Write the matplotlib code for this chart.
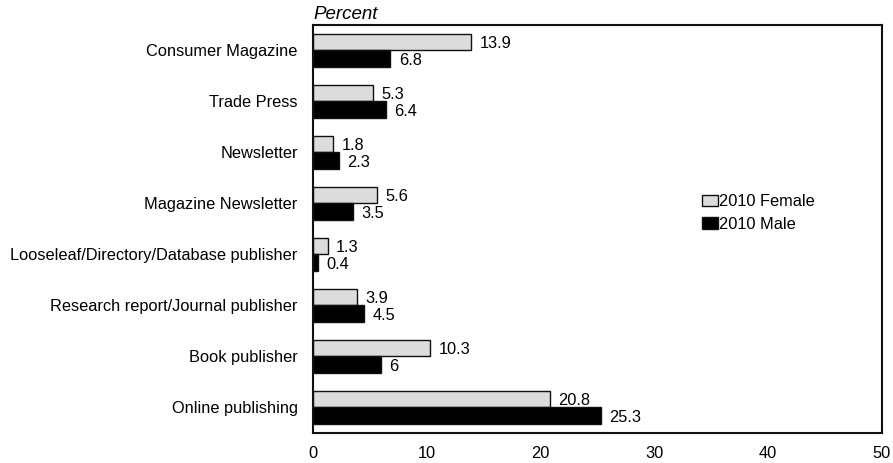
import matplotlib

matplotlib.use("Agg")
import matplotlib.pyplot as plt
import numpy as np

categories = [
    "Consumer Magazine",
    "Trade Press",
    "Newsletter",
    "Magazine Newsletter",
    "Looseleaf/Directory/Database publisher",
    "Research report/Journal publisher",
    "Book publisher",
    "Online publishing",
]
female_2010 = [13.9, 5.3, 1.8, 5.6, 1.3, 3.9, 10.3, 20.8]
male_2010 = [6.8, 6.4, 2.3, 3.5, 0.4, 4.5, 6, 25.3]
x_ticks = [0, 10, 20, 30, 40, 50]

FS = 11.8
plt.rcParams["font.family"] = ["Liberation Sans", "DejaVu Sans"]
plt.rcParams["font.size"] = FS

fig = plt.figure(figsize=(8.93, 4.63), dpi=100)
ax = fig.add_axes([313 / 893, 30 / 463, 569 / 893, 408 / 463])

pos = np.arange(len(categories))
h = 0.323
ax.barh(pos - h / 2, female_2010, height=h, color="#dcdcdc",
        edgecolor="#111111", linewidth=1, label="2010 Female")
ax.barh(pos + h / 2, male_2010, height=h, color="black",
        edgecolor="#111111", linewidth=1, label="2010 Male")

for y, v in zip(pos - h / 2, female_2010):
    ax.annotate(f"{v:g}", (v, y), xytext=(6, -1), textcoords="offset points",
                va="center", ha="left", fontsize=FS)
for y, v in zip(pos + h / 2, male_2010):
    ax.annotate(f"{v:g}", (v, y), xytext=(6, -1.5), textcoords="offset points",
                va="center", ha="left", fontsize=FS)

ax.set_xlim(0, 50)
ax.set_ylim(len(categories) - 1 + 0.5, -0.49)
ax.set_xticks(x_ticks)
ax.set_yticks(pos)
ax.set_yticklabels(categories)
ax.tick_params(length=0, labelsize=FS)
ax.tick_params(axis="x", pad=9)
ax.tick_params(axis="y", pad=11)
for side in ax.spines.values():
    side.set_linewidth(1.5)
    side.set_color("#111111")

ax.text(0, 1.006, "Percent", transform=ax.transAxes, fontstyle="italic",
        fontsize=13.5, ha="left", va="bottom")

ax.legend(loc="center left", bbox_to_anchor=(0.684, 0.539), frameon=False,
          borderpad=0, borderaxespad=0, handlelength=0.95, handleheight=0.7,
          handletextpad=0.05, labelspacing=0.45, fontsize=FS)

fig.savefig("out.png", dpi=100)
